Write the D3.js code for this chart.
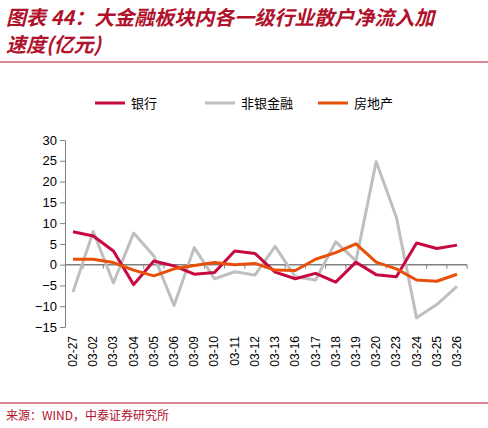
<!DOCTYPE html>
<html><head><meta charset="utf-8">
<script src="https://cdn.jsdelivr.net/npm/d3@7"></script>
<style>body{margin:0;background:#fff;font-family:"Noto Sans CJK SC","DejaVu Sans",sans-serif}</style>
</head><body><div id="chart"></div>
<script>
var categories = ["02-27","03-02","03-03","03-04","03-05","03-06","03-09","03-10","03-11","03-12","03-13","03-16","03-17","03-18","03-19","03-20","03-23","03-24","03-25","03-26"];
var bank = [7.9,6.9,3.3,-4.8,0.9,-0.3,-2.3,-1.9,3.3,2.7,-1.8,-3.4,-2.1,-4.2,0.6,-2.4,-2.9,5.2,3.9,4.7];
var nonBank = [-6.6,8,-4.4,7.6,2.1,-9.8,4.1,-3.4,-1.7,-2.5,4.4,-2.9,-3.7,5.5,0.9,24.8,11.4,-12.8,-9.6,-5.2];
var property = [1.3,1.3,0.5,-1.3,-2.7,-1,-0.2,0.5,0,0.3,-1.3,-1.4,1.3,2.9,5,0.6,-1,-3.7,-4,-2.3];
var yTicks = [30,25,20,15,10,5,0,-5,-10,-15];
var series = [
  {name:"银行", values:bank, color:"#c8093f"},
  {name:"非银金融", values:nonBank, color:"#bfbfbf"},
  {name:"房地产", values:property, color:"#e8500a"}
];

var svg = d3.select("#chart").append("svg").attr("width",488).attr("height",428);

//title
svg.append("text").attr("x",6).attr("y",25).text("图表 44：大金融板块内各一级行业散户净流入加")
  .attr("font-size",20).attr("font-weight","bold").attr("font-style","italic").attr("fill","#b0112b");
svg.append("text").attr("x",6).attr("y",52).text("速度(亿元)")
  .attr("font-size",20).attr("font-weight","bold").attr("font-style","italic").attr("fill","#b0112b");
svg.append("line").attr("x1",0).attr("x2",488).attr("y1",62).attr("y2",62).attr("stroke","#b0112b").attr("stroke-width",1);

var x = d3.scalePoint().domain(categories).range([73,457]);
var y = d3.scaleLinear().domain([-15,30]).range([327,140]);

//y axis
var yAxis = svg.append("g").attr("transform","translate(65,0)")
  .call(d3.axisLeft(y).tickValues(yTicks).tickSize(5).tickSizeOuter(0));
yAxis.select(".domain").attr("stroke","#808080");
yAxis.selectAll("line").attr("stroke","#808080");
yAxis.selectAll("text").attr("font-size",13).attr("fill","#000").attr("font-family","Arial,Liberation Sans");

//x axis at zero
var step = x.step();
var xAxis = svg.append("g").attr("transform","translate(0,"+y(0)+")");
xAxis.append("line").attr("x1",65).attr("x2",467).attr("stroke","#808080").attr("stroke-width",1.5);
xAxis.selectAll(".tk").data(categories).enter().append("line")
  .attr("x1",function(d){return x(d)+step/2;}).attr("x2",function(d){return x(d)+step/2;})
  .attr("y1",0).attr("y2",4).attr("stroke","#808080");

svg.append("g").selectAll("text").data(categories).enter().append("text")
  .attr("transform",function(d){return "translate("+(x(d)+4)+",336) rotate(-90)";})
  .attr("text-anchor","end").attr("font-size",12).attr("font-family","Arial,Liberation Sans")
  .text(function(d){return d;});

var line = d3.line().x(function(d,i){return x(categories[i]);}).y(function(d){return y(d);});
[1,0,2].forEach(function(k){
  var s = series[k];
  svg.append("path").datum(s.values).attr("d",line).attr("fill","none")
    .attr("stroke",s.color).attr("stroke-width",3).attr("stroke-linejoin","round");
});

//legend
var lx = [95,205,318];
series.forEach(function(s,i){
  svg.append("line").attr("x1",lx[i]).attr("x2",lx[i]+30).attr("y1",103).attr("y2",103)
    .attr("stroke",s.color).attr("stroke-width",3);
  svg.append("text").attr("x",lx[i]+36).attr("y",108).text(s.name).attr("font-size",13);
});

//source
svg.append("line").attr("x1",0).attr("x2",488).attr("y1",403).attr("y2",403).attr("stroke","#b0112b");
svg.append("text").attr("x",6).attr("y",420).text("来源：WIND，中泰证券研究所")
  .attr("font-size",12).attr("fill","#b0112b");
</script></body></html>
